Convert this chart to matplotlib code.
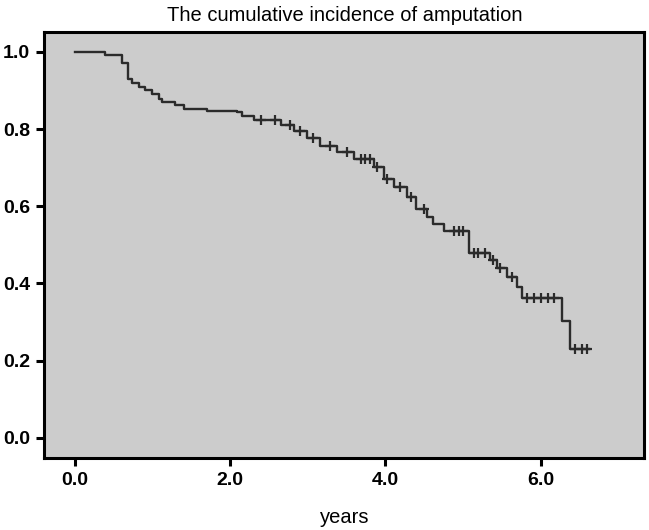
import numpy as np
import matplotlib.pyplot as plt

plt.rcParams['font.family'] = ['Liberation Sans Narrow', 'Liberation Sans', 'DejaVu Sans']

# Kaplan-Meier style step curve
step_times = [0.0, 0.39, 0.60, 0.68, 0.73, 0.82, 0.90, 0.99, 1.08, 1.12, 1.29, 1.40,
              1.70, 2.09, 2.15, 2.30, 2.65, 2.82, 2.99, 3.16, 3.38, 3.59, 3.85, 3.98,
              4.11, 4.28, 4.40, 4.54, 4.62, 4.75, 5.08, 5.35, 5.44, 5.57, 5.70, 5.76,
              6.28, 6.38]
step_surv = [1.0, 0.993, 0.97, 0.93, 0.92, 0.91, 0.90, 0.89, 0.877, 0.869, 0.862, 0.853,
             0.847, 0.843, 0.834, 0.824, 0.811, 0.795, 0.778, 0.757, 0.740, 0.722, 0.701, 0.671,
             0.649, 0.624, 0.594, 0.572, 0.555, 0.537, 0.480, 0.460, 0.439, 0.418, 0.392, 0.363,
             0.302, 0.229]
censor_times = [2.39, 2.58, 2.77, 2.90, 3.07, 3.29, 3.51, 3.68, 3.74, 3.80, 3.89, 4.02,
                4.19, 4.33, 4.50, 4.89, 4.95, 5.00, 5.14, 5.20, 5.29, 5.39, 5.48, 5.63,
                5.83, 5.91, 6.00, 6.09, 6.17, 6.45, 6.54, 6.60]
end_time = 6.62

x_ticks = [0, 2, 4, 6]
y_ticks = [0.0, 0.2, 0.4, 0.6, 0.8, 1.0]

fig = plt.figure(figsize=(6.49, 5.30), dpi=100)
ax = fig.add_axes([0.068, 0.136, 0.925, 0.804])
ax.set_facecolor('#cccccc')

xs = list(step_times) + [end_time]
ys = list(step_surv) + [step_surv[-1]]
ax.step(xs, ys, where='post', color='#2b2b2b', lw=1.7)

idx = np.searchsorted(step_times, censor_times, side='right') - 1
cens_y = np.array(step_surv)[idx]
ax.plot(censor_times, cens_y, linestyle='none', marker='+', ms=7, mew=1.6, color='#2b2b2b')

ax.set_xlim(-0.4, 7.34)
ax.set_ylim(-0.052, 1.052)
ax.set_xticks(x_ticks)
ax.set_xticklabels([f'{t:.1f}' for t in x_ticks])
ax.set_yticks(y_ticks)
ax.set_yticklabels([f'{t:.1f}' for t in y_ticks])
for lab in ax.get_xticklabels() + ax.get_yticklabels():
    lab.set_fontweight('bold')
    lab.set_fontsize(14)
ax.tick_params(direction='out', length=6, width=2.2, color='black', pad=4)

for sp in ax.spines.values():
    sp.set_linewidth(2.2)
    sp.set_color('black')

ax.set_title('The cumulative incidence of amputation', fontsize=14.5, pad=8)
ax.set_xlabel('years', fontsize=14.5, labelpad=14)

fig.savefig('out.png', dpi=100)
